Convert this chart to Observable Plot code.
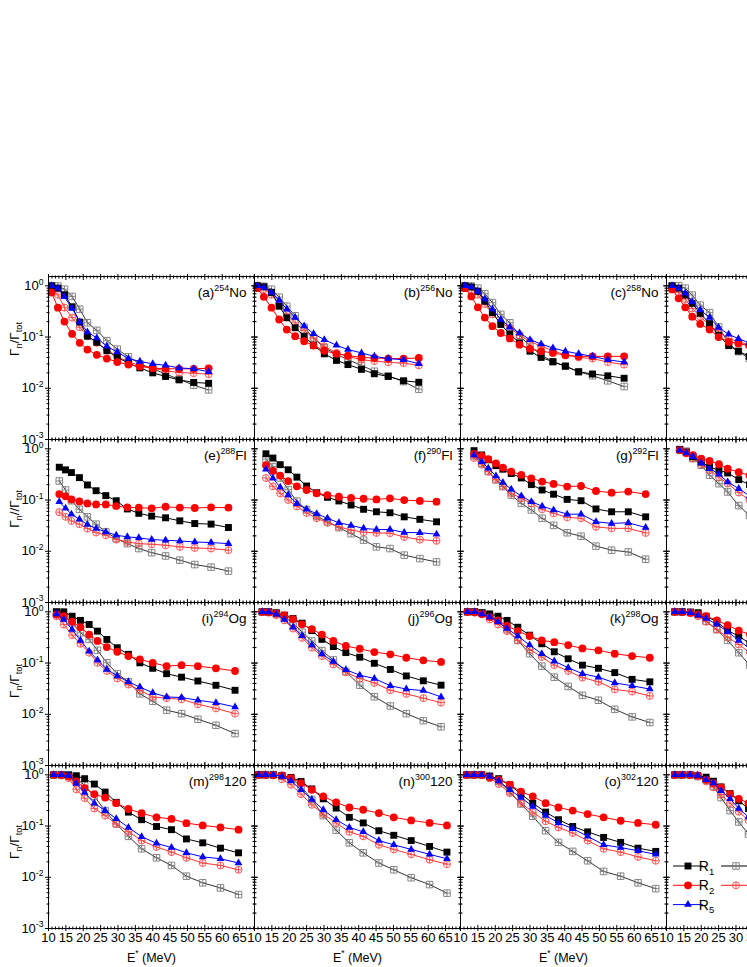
<!DOCTYPE html>
<html><head><meta charset="utf-8">
<script src="https://cdn.jsdelivr.net/npm/d3@7"></script>
<script src="https://cdn.jsdelivr.net/npm/@observablehq/plot@0.6"></script>
<style>
html,body{margin:0;padding:0;overflow:hidden;background:#fff;}
#chart{position:relative;width:747px;height:967px;overflow:hidden;background:#fff;}
</style></head><body><div id="chart"></div>
<script>
// ---------- categories & labels ----------
const cols = ["c1","c2","c3","c4"];
const rows = ["r1","r2","r3","r4"];
const panelIds = ["a","b","c","d","e","f","g","h","i","j","k","l","m","n","o","p"];
const panelLabels = ["(a)^{254}No","(b)^{256}No","(c)^{258}No","(d)^{260}No",
  "(e)^{288}Fl","(f)^{290}Fl","(g)^{292}Fl","(h)^{294}Fl",
  "(i)^{294}Og","(j)^{296}Og","(k)^{298}Og","(l)^{300}Og",
  "(m)^{298}120","(n)^{300}120","(o)^{302}120","(p)^{304}120"];
const rowTitles = ["Γ_{n}/Γ_{tot}","Γ_{n}//Γ_{tot}","Γ_{n}/Γ_{tot}","Γ_{n}/Γ_{tot}"];
const xTitle = "E^{*} (MeV)";
const seriesKeys = ["R1","R1o","R2","R2o","R5"];
const legendLabels = ["R_{1}","R_{2}","R_{5}"];
const xMajorTicks = [10,15,20,25,30,35,40,45,50,55,60,65];
const yMajorTicks = [1,0.1,0.01,0.001];
const yTickLabelValues = [1,0.1,0.01,0.001];

// ---------- data (E* in MeV, Gamma_n/Gamma_tot) ----------
const a_E  = [10.9,12.7,14.6,16.8,19.0,21.2,23.9,26.8,29.8,33.0,36.3,40.0,43.7,47.6,51.8,56.1];
const a_R1 = [1.0,0.90,0.67,0.39,0.196,0.104,0.079,0.054,0.040,0.031,0.025,0.020,0.017,0.0146,0.013,0.0125];
const a_R1o= [1.0,0.99,0.86,0.62,0.35,0.19,0.135,0.085,0.058,0.041,0.030,0.024,0.019,0.015,0.0115,0.0093];
const a_R2 = [0.74,0.375,0.2,0.115,0.077,0.057,0.045,0.038,0.0325,0.029,0.0267,0.0247,0.024,0.024,0.024,0.0245];
const a_R2o= [0.86,0.67,0.375,0.24,0.155,0.104,0.077,0.057,0.042,0.0325,0.028,0.0247,0.022,0.0203,0.0197,0.0188];
const a_R5 = [1.0,0.9,0.61,0.36,0.196,0.126,0.096,0.066,0.051,0.038,0.0335,0.030,0.028,0.025,0.024,0.021];

const b_E  = [10.8,12.7,14.9,17.1,19.3,21.7,24.3,27.0,30.1,33.6,36.9,40.8,44.5,48.5,52.9,57.3];
const b_R1 = [1.0,0.955,0.74,0.40,0.238,0.152,0.104,0.069,0.047,0.035,0.029,0.0234,0.0192,0.017,0.014,0.0131];
const b_R1o= [1.0,0.98,0.86,0.6,0.4,0.26,0.155,0.095,0.062,0.046,0.036,0.028,0.0215,0.0175,0.0135,0.0096];
const b_R2 = [0.9,0.61,0.375,0.22,0.14,0.104,0.083,0.068,0.054,0.047,0.0435,0.040,0.039,0.038,0.038,0.039];
const b_R2o= [1.0,0.86,0.67,0.44,0.285,0.19,0.134,0.096,0.066,0.049,0.042,0.036,0.034,0.032,0.031,0.028];
const b_R5 = [1.0,0.93,0.74,0.52,0.35,0.24,0.164,0.116,0.089,0.069,0.057,0.049,0.042,0.038,0.036,0.030];

const c_E  = [11.3,13.1,15.0,17.0,19.2,21.6,24.2,27.0,30.0,33.2,36.6,40.2,44.0,48.0,52.4,57.1];
const c_R1 = [1.0,0.95,0.78,0.5,0.3,0.176,0.115,0.077,0.053,0.040,0.033,0.027,0.021,0.019,0.0175,0.0157];
const c_R1o= [1.0,0.99,0.9,0.7,0.47,0.277,0.19,0.108,0.066,0.045,0.033,0.027,0.021,0.0176,0.014,0.0108];
const c_R2 = [0.9,0.62,0.38,0.24,0.163,0.12,0.094,0.071,0.059,0.053,0.049,0.044,0.042,0.042,0.042,0.042];
const c_R2o= [0.97,0.86,0.67,0.44,0.277,0.19,0.15,0.108,0.083,0.066,0.054,0.045,0.040,0.038,0.0325,0.029];
const c_R5 = [1.0,0.95,0.78,0.55,0.35,0.22,0.156,0.12,0.089,0.073,0.061,0.053,0.047,0.042,0.036,0.0325];

const d_E  = [11.6,13.5,15.4,17.4,19.7,22.4,25.0,27.9,30.7,33.8,37.0];
const d_R1 = [1.0,0.9,0.66,0.455,0.29,0.183,0.108,0.068,0.053,0.042,0.034];
const d_R1o= [1.0,1.0,0.9,0.66,0.42,0.3,0.158,0.075,0.052,0.038,0.029];
const d_R2 = [0.85,0.57,0.38,0.25,0.18,0.14,0.1,0.08,0.075,0.068,0.062];
const d_R2o= [0.9,0.74,0.55,0.36,0.25,0.17,0.126,0.093,0.082,0.07,0.06];
const d_R5 = [1.0,0.9,0.72,0.49,0.34,0.24,0.153,0.113,0.093,0.077,0.065];

const e_E  = [13.1,14.9,16.6,18.9,21.2,23.7,26.5,29.5,32.7,36.0,39.7,43.7,47.8,52.1,56.8,61.8];
const e_R1 = [0.437,0.388,0.344,0.274,0.197,0.152,0.122,0.097,0.067,0.055,0.0486,0.045,0.0393,0.0348,0.0339,0.0291];
const e_R1o= [0.236,0.157,0.097,0.066,0.047,0.0338,0.0239,0.0177,0.0141,0.0113,0.0094,0.0081,0.0067,0.0055,0.0049,0.0041];
const e_R2 = [0.131,0.118,0.103,0.094,0.086,0.082,0.082,0.076,0.072,0.071,0.069,0.074,0.071,0.070,0.072,0.071];
const e_R2o= [0.058,0.047,0.039,0.0338,0.0278,0.0232,0.0206,0.0169,0.0152,0.0141,0.0137,0.0131,0.0122,0.0116,0.0113,0.0105];
const e_R5 = [0.093,0.069,0.053,0.042,0.0333,0.0278,0.0239,0.0206,0.0191,0.0183,0.0169,0.0164,0.0159,0.0152,0.0148,0.0141];

const f_E  = [13.3,15.3,17.4,19.7,22.2,25.0,27.9,31.0,34.3,37.8,41.4,45.1,49.0,53.1,57.6,62.4];
const f_R1 = [0.80,0.66,0.49,0.39,0.28,0.188,0.139,0.113,0.096,0.080,0.066,0.059,0.0565,0.047,0.042,0.0376];
const f_R1o= [0.63,0.45,0.27,0.16,0.095,0.065,0.048,0.038,0.029,0.022,0.0165,0.0122,0.0113,0.0084,0.0072,0.0062];
const f_R2 = [0.48,0.37,0.30,0.235,0.185,0.157,0.135,0.125,0.116,0.110,0.106,0.103,0.108,0.100,0.096,0.093];
const f_R2o= [0.27,0.185,0.135,0.1,0.075,0.056,0.044,0.036,0.030,0.026,0.0235,0.0228,0.0226,0.019,0.0169,0.016];
const f_R5 = [0.40,0.266,0.177,0.125,0.085,0.066,0.054,0.044,0.036,0.032,0.028,0.0266,0.0266,0.0233,0.023,0.0216];

const g_E  = [13.9,16.1,18.0,20.2,22.2,24.6,27.5,30.4,33.5,36.8,40.7,44.7,49.0,53.5,58.3,63.3];
const g_R1 = [0.92,0.76,0.61,0.47,0.40,0.33,0.27,0.20,0.157,0.13,0.103,0.097,0.067,0.059,0.059,0.047];
const g_R1o= [0.73,0.52,0.36,0.247,0.183,0.125,0.086,0.064,0.044,0.032,0.023,0.0197,0.0126,0.0105,0.0097,0.0070];
const g_R2 = [0.80,0.73,0.63,0.52,0.43,0.36,0.31,0.266,0.229,0.206,0.183,0.188,0.150,0.139,0.146,0.131];
const g_R2o= [0.66,0.49,0.36,0.254,0.188,0.135,0.108,0.086,0.066,0.055,0.046,0.044,0.030,0.028,0.028,0.0228];
const g_R5 = [0.76,0.56,0.418,0.296,0.22,0.162,0.12,0.093,0.076,0.064,0.053,0.053,0.0376,0.035,0.036,0.029];

const h_E  = [13.8,15.7,17.6,20.0,22.4,25.1,27.6,30.8,33.9,37.2];
const h_R1 = [0.97,0.87,0.70,0.556,0.444,0.38,0.338,0.25,0.2,0.165];
const h_R1o= [0.97,0.9,0.646,0.478,0.305,0.209,0.144,0.078,0.05,0.035];
const h_R2 = [0.94,0.83,0.75,0.646,0.58,0.50,0.41,0.35,0.3,0.27];
const h_R2o= [0.94,0.81,0.646,0.5,0.38,0.28,0.21,0.14,0.1,0.075];
const h_R5 = [0.94,0.83,0.70,0.53,0.41,0.32,0.225,0.167,0.12,0.09];

const i_E  = [12.3,14.4,16.8,19.2,21.7,24.1,26.8,29.8,33.0,36.3,40.0,44.0,48.3,53.0,58.2,63.7];
const i_R1 = [1.0,1.0,0.82,0.68,0.566,0.42,0.289,0.199,0.148,0.101,0.079,0.062,0.053,0.0446,0.0368,0.0294];
const i_R1o= [1.0,0.82,0.61,0.39,0.29,0.177,0.101,0.062,0.043,0.025,0.018,0.012,0.0103,0.008,0.0061,0.0042];
const i_R2 = [0.89,0.82,0.64,0.50,0.36,0.27,0.205,0.166,0.137,0.118,0.101,0.087,0.091,0.087,0.079,0.070];
const i_R2o= [0.82,0.566,0.35,0.238,0.159,0.101,0.07,0.05,0.038,0.0294,0.0218,0.0206,0.0196,0.0157,0.013,0.0103];
const i_R5 = [0.91,0.71,0.45,0.277,0.17,0.115,0.075,0.056,0.043,0.034,0.0263,0.0218,0.0212,0.0188,0.0168,0.0139];

const j_E  = [12.2,14.1,16.3,18.6,21.1,23.7,26.5,29.4,32.7,36.3,40.3,44.5,49.1,53.7,58.6,63.7];
const j_R1 = [1.0,1.0,0.96,0.86,0.74,0.60,0.43,0.29,0.21,0.16,0.13,0.099,0.075,0.056,0.045,0.037];
const j_R1o= [1.0,0.99,0.91,0.79,0.61,0.40,0.27,0.175,0.115,0.068,0.037,0.022,0.0145,0.0103,0.0075,0.0057];
const j_R2 = [1.0,0.99,0.93,0.85,0.72,0.57,0.46,0.36,0.27,0.215,0.19,0.164,0.148,0.127,0.113,0.105];
const j_R2o= [1.0,0.96,0.86,0.68,0.47,0.31,0.2,0.137,0.094,0.066,0.05,0.041,0.0294,0.025,0.0206,0.0169];
const j_R5 = [1.0,0.99,0.9,0.71,0.5,0.34,0.225,0.15,0.107,0.074,0.058,0.05,0.036,0.031,0.029,0.0218];

const k_E  = [12.0,14.1,16.2,18.4,20.8,23.4,26.5,29.9,33.4,37.0,41.0,45.1,49.7,54.4,59.4,64.5];
const k_R1 = [1.0,1.0,0.96,0.91,0.82,0.68,0.50,0.35,0.238,0.166,0.121,0.091,0.079,0.065,0.048,0.043];
const k_R1o= [1.0,1.0,0.95,0.86,0.66,0.45,0.277,0.152,0.087,0.053,0.035,0.0234,0.0188,0.0125,0.0089,0.0069];
const k_R2 = [1.0,0.99,0.91,0.79,0.68,0.53,0.42,0.336,0.277,0.256,0.224,0.193,0.177,0.152,0.137,0.127];
const k_R2o= [1.0,0.96,0.89,0.71,0.566,0.42,0.277,0.185,0.131,0.091,0.07,0.052,0.043,0.0306,0.0277,0.0228];
const k_R5 = [1.0,1.0,0.91,0.79,0.64,0.47,0.336,0.224,0.152,0.109,0.081,0.062,0.053,0.041,0.036,0.031];

const l_E  = [12.4,14.5,16.9,19.1,21.4,24.5,27.6,30.8,34.0,37.4];
const l_R1 = [1.0,1.0,0.99,0.96,0.82,0.64,0.43,0.336,0.24,0.17];
const l_R1o= [1.0,1.0,0.96,0.89,0.66,0.45,0.277,0.159,0.09,0.055];
const l_R2 = [1.0,0.99,0.96,0.89,0.82,0.68,0.55,0.43,0.36,0.3];
const l_R2o= [1.0,0.99,0.94,0.82,0.64,0.45,0.32,0.23,0.16,0.11];
const l_R5 = [1.0,1.0,0.96,0.86,0.74,0.57,0.41,0.277,0.19,0.13];

const m_E  = [11.5,13.7,15.8,18.0,20.4,23.2,26.3,29.5,33.0,36.8,41.1,45.4,49.7,54.4,59.5,64.7];
const m_R1 = [1.0,1.0,1.0,0.96,0.84,0.66,0.46,0.29,0.187,0.133,0.098,0.085,0.056,0.047,0.037,0.030];
const m_R1o= [1.0,1.0,0.97,0.87,0.62,0.38,0.2,0.11,0.063,0.036,0.024,0.017,0.0105,0.0078,0.0062,0.0046];
const m_R2 = [1.0,1.0,0.93,0.74,0.55,0.42,0.36,0.28,0.215,0.178,0.148,0.138,0.114,0.103,0.094,0.085];
const m_R2o= [1.0,0.97,0.86,0.52,0.35,0.22,0.16,0.11,0.078,0.052,0.039,0.031,0.024,0.019,0.017,0.014];
const m_R5 = [1.0,1.0,0.97,0.68,0.45,0.28,0.2,0.139,0.094,0.062,0.046,0.038,0.03,0.025,0.023,0.019];

const n_E  = [11.2,13.2,15.4,17.9,20.5,23.4,26.5,29.8,33.5,37.3,41.3,45.8,50.1,55.1,60.4,65.4];
const n_R1 = [1.0,1.0,1.0,0.97,0.89,0.74,0.53,0.34,0.224,0.148,0.115,0.081,0.066,0.052,0.04,0.031];
const n_R1o= [1.0,1.0,1.0,0.96,0.84,0.6,0.33,0.16,0.083,0.047,0.030,0.019,0.014,0.0098,0.0072,0.0049];
const n_R2 = [1.0,1.0,1.0,0.97,0.86,0.69,0.51,0.38,0.29,0.23,0.208,0.179,0.148,0.129,0.115,0.103];
const n_R2o= [1.0,1.0,0.97,0.82,0.64,0.42,0.26,0.171,0.115,0.077,0.063,0.043,0.035,0.028,0.022,0.018];
const n_R5 = [1.0,1.0,1.0,0.93,0.76,0.51,0.33,0.208,0.133,0.094,0.077,0.052,0.043,0.035,0.028,0.023];

const o_E  = [11.8,13.9,16.1,18.4,21.0,24.2,27.4,30.8,34.5,38.2,42.3,46.6,51.2,56.1,61.1,66.2];
const o_R1 = [1.0,1.0,1.0,0.93,0.84,0.64,0.42,0.28,0.187,0.133,0.098,0.077,0.06,0.048,0.037,0.032];
const o_R1o= [1.0,1.0,1.0,0.96,0.74,0.47,0.27,0.155,0.081,0.048,0.032,0.021,0.013,0.0105,0.0078,0.006];
const o_R2 = [1.0,1.0,1.0,0.89,0.8,0.64,0.47,0.38,0.28,0.23,0.2,0.171,0.148,0.127,0.115,0.106];
const o_R2o= [1.0,1.0,0.99,0.86,0.66,0.44,0.28,0.187,0.124,0.094,0.073,0.052,0.036,0.031,0.025,0.021];
const o_R5 = [1.0,1.0,1.0,0.93,0.76,0.51,0.36,0.24,0.16,0.115,0.089,0.063,0.043,0.038,0.033,0.028];

const p_E  = [12.4,14.5,16.8,19.0,21.4,23.5,25.7,28.3,30.8,33.6,36.5];
const p_R1 = [1.0,1.0,1.0,0.97,0.9,0.75,0.58,0.43,0.31,0.22,0.16];
const p_R1o= [1.0,1.0,1.0,0.93,0.8,0.59,0.36,0.2,0.12,0.07,0.042];
const p_R2 = [1.0,1.0,1.0,0.97,0.8,0.69,0.57,0.42,0.34,0.28,0.23];
const p_R2o= [1.0,1.0,0.99,0.93,0.74,0.57,0.41,0.28,0.19,0.13,0.09];
const p_R5 = [1.0,1.0,1.0,0.97,0.8,0.69,0.49,0.34,0.22,0.15,0.1];

const panelEnergies = [a_E,b_E,c_E,d_E,e_E,f_E,g_E,h_E,i_E,j_E,k_E,l_E,m_E,n_E,o_E,p_E];
const panelValues = [
  [a_R1,a_R1o,a_R2,a_R2o,a_R5],[b_R1,b_R1o,b_R2,b_R2o,b_R5],[c_R1,c_R1o,c_R2,c_R2o,c_R5],[d_R1,d_R1o,d_R2,d_R2o,d_R5],
  [e_R1,e_R1o,e_R2,e_R2o,e_R5],[f_R1,f_R1o,f_R2,f_R2o,f_R5],[g_R1,g_R1o,g_R2,g_R2o,g_R5],[h_R1,h_R1o,h_R2,h_R2o,h_R5],
  [i_R1,i_R1o,i_R2,i_R2o,i_R5],[j_R1,j_R1o,j_R2,j_R2o,j_R5],[k_R1,k_R1o,k_R2,k_R2o,k_R5],[l_R1,l_R1o,l_R2,l_R2o,l_R5],
  [m_R1,m_R1o,m_R2,m_R2o,m_R5],[n_R1,n_R1o,n_R2,n_R2o,n_R5],[o_R1,o_R1o,o_R2,o_R2o,o_R5],[p_R1,p_R1o,p_R2,p_R2o,p_R5]];

// ---------- tables built from the arrays ----------
const table = [];
panelIds.forEach((id, i) => {
  const E = panelEnergies[i];
  seriesKeys.forEach((s, k) => {
    panelValues[i][k].forEach((v, j) => table.push({panel: id, col: cols[i % 4], row: rows[Math.floor(i / 4)], series: s, E: E[j], ratio: v}));
  });
});
const labelTable = panelIds.map((id, i) => ({col: cols[i % 4], row: rows[Math.floor(i / 4)], label: panelLabels[i]}));
const yTitleTable = rows.map((r, i) => ({col: cols[0], row: r, title: rowTitles[i]}));
const xTitleTable = cols.slice(0, 3).map(c => ({col: c, row: rows[3], title: xTitle}));
const xMinorTicks = d3.range(11, 70).filter(v => v % 5 !== 0);
const yMinorTicks = [0.001, 0.01, 0.1].flatMap(b => d3.range(2, 10).map(m => m * b));

// ---------- symbols & styles ----------
const squarePlus = {draw(ctx, size) {
  const h = Math.sqrt(size) / 2;
  ctx.moveTo(-h, -h); ctx.lineTo(h, -h); ctx.lineTo(h, h); ctx.lineTo(-h, h); ctx.closePath();
  ctx.moveTo(-h, 0); ctx.lineTo(h, 0); ctx.moveTo(0, -h); ctx.lineTo(0, h);
}};
const circlePlus = {draw(ctx, size) {
  const r = Math.sqrt(size / Math.PI);
  ctx.moveTo(r, 0); ctx.arc(0, 0, r, 0, 2 * Math.PI);
  ctx.moveTo(-r, 0); ctx.lineTo(r, 0); ctx.moveTo(0, -r); ctx.lineTo(0, r);
}};
const styles = {
  R1o: {line: "#000000", lw: 0.8, symbol: squarePlus, r: 3.7, fill: "none", stroke: "#7a7a7a", sw: 0.9},
  R2o: {line: "#ff1a1a", lw: 0.9, symbol: circlePlus, r: 3.5, fill: "none", stroke: "#ff4a4a", sw: 0.9},
  R1:  {line: "#000000", lw: 1, symbol: d3.symbolSquare, r: 3.9, fill: "#000000"},
  R2:  {line: "#ff0000", lw: 1, symbol: d3.symbolCircle, r: 3.9, fill: "#ff0000"},
  R5:  {line: "#0000ff", lw: 1, symbol: d3.symbolTriangle, r: 2.9, fill: "#0000ff"}
};
const drawOrder = ["R1o","R2o","R1","R2","R5"];

const FONT = "'Liberation Sans', Arial, Helvetica, sans-serif";
const marks = [];
for (const s of drawOrder) {
  const st = styles[s];
  const d = table.filter(r => r.series === s);
  marks.push(Plot.line(d, {x: "E", y: "ratio", z: "panel", fx: "col", fy: "row", stroke: st.line, strokeWidth: st.lw}));
  const dotOpts = {x: "E", y: "ratio", fx: "col", fy: "row", symbol: st.symbol, r: st.r, fill: st.fill};
  if (st.stroke) { dotOpts.stroke = st.stroke; dotOpts.strokeWidth = st.sw; }
  marks.push(Plot.dot(d, dotOpts));
}
// axes: crossing ticks on all four sides of each panel
const tickBase = {facetAnchor: null, stroke: "black", fill: "none", label: null};
marks.push(
  Plot.axisX(xMajorTicks, {...tickBase, anchor: "bottom", tickSize: 6, insetBottom: 3}),
  Plot.axisX(xMinorTicks, {...tickBase, anchor: "bottom", tickSize: 3, insetBottom: 1.5}),
  Plot.axisX(xMajorTicks, {...tickBase, anchor: "top", tickSize: 6, insetTop: 3}),
  Plot.axisX(xMinorTicks, {...tickBase, anchor: "top", tickSize: 3, insetTop: 1.5}),
  Plot.axisY(yMajorTicks, {...tickBase, anchor: "left", tickSize: 6, insetLeft: 3}),
  Plot.axisY(yMinorTicks, {...tickBase, anchor: "left", tickSize: 3, insetLeft: 1.5}),
  Plot.axisY(yMajorTicks, {...tickBase, anchor: "right", tickSize: 6, insetRight: 3}),
  Plot.axisY(yMinorTicks, {...tickBase, anchor: "right", tickSize: 3, insetRight: 1.5}),
  Plot.axisX(xMajorTicks, {anchor: "bottom", facetAnchor: "bottom", tickSize: 0, tickPadding: 4.5, label: null, fontSize: 13, fill: "black"}),
  Plot.axisY(yTickLabelValues, {anchor: "left", facetAnchor: "left", tickSize: 0, tickPadding: 5, label: null, fontSize: 13, fill: "black",
    tickFormat: d => `10^{${Math.round(Math.log10(d))}}`}),
  Plot.frame({stroke: "black", strokeWidth: 1}),
  Plot.text(labelTable, {fx: "col", fy: "row", text: "label", frameAnchor: "top-right", dx: -8, dy: 20, textAnchor: "end", lineAnchor: "bottom", fontSize: 13.5, fill: "black"}),
  Plot.text(xTitleTable, {fx: "col", fy: "row", text: "title", frameAnchor: "bottom", dy: 33, textAnchor: "middle", lineAnchor: "bottom", fontSize: 12.5, fill: "black"})
);
// y titles: one per row (each placed slightly differently, as in the original figure)
const yTitleShift = [-19, -12, -3, -5];
rows.forEach((r, i) => {
  marks.push(Plot.text(yTitleTable.filter(t => t.row === r), {fx: "col", fy: "row", text: "title", frameAnchor: "left", rotate: -90,
    dx: -30, dy: yTitleShift[i], textAnchor: "middle", lineAnchor: "bottom", fontSize: 13.5, fill: "black"}));
});

const chart = Plot.plot({
  width: 872, height: 967,
  marginLeft: 48, marginRight: 0, marginTop: 276, marginBottom: 39,
  x: {type: "linear", domain: [10, 69.3], axis: null},
  y: {type: "log", domain: [0.001, 1.52], axis: null},
  fx: {domain: cols, padding: 0, axis: null},
  fy: {domain: rows, padding: 0, axis: null},
  style: {fontFamily: FONT, fontSize: "13px", color: "black", background: "white", maxWidth: "none", overflow: "visible"},
  marks
});
chart.style.maxWidth = "none";
chart.style.width = "872px";
chart.style.height = "967px";
document.getElementById("chart").appendChild(chart);

// ---------- rich text (superscripts / subscripts) ----------
function rich(node, str, base) {
  const parts = str.split(/(\^\{[^}]*\}|_\{[^}]*\})/).filter(s => s !== "");
  while (node.firstChild) node.removeChild(node.firstChild);
  let shift = 0;
  for (const p of parts) {
    const ts = document.createElementNS("http://www.w3.org/2000/svg", "tspan");
    let target = 0, size = base, txt = p;
    if (p.startsWith("^{")) { target = -0.42 * base; size = 0.66 * base; txt = p.slice(2, -1); }
    else if (p.startsWith("_{")) { target = 0.25 * base; size = 0.68 * base; txt = p.slice(2, -1); }
    if (target - shift !== 0) ts.setAttribute("dy", (target - shift).toFixed(2));
    shift = target;
    ts.setAttribute("font-size", size);
    ts.textContent = txt;
    node.appendChild(ts);
  }
}
d3.select(chart).selectAll("text").each(function() {
  const s = this.textContent;
  if (/[\^_]\{/.test(s)) {
    const base = parseFloat(getComputedStyle(this).fontSize) || 13;
    rich(this, s, base);
  }
});

// ---------- legend (inside panel p) ----------
const legendKeys = [["R1","R1o"],["R2","R2o"],["R5",null]];
const L = d3.select(chart).append("g").attr("aria-label", "legend").attr("font-family", FONT).attr("font-size", 14);
function legendSymbol(key, x, y) {
  const st = styles[key];
  const path = d3.symbol(st.symbol, Math.PI * st.r * st.r)();
  L.append("path").attr("d", path).attr("transform", `translate(${x},${y})`)
    .attr("fill", st.fill).attr("stroke", st.stroke || "none").attr("stroke-width", st.sw || 0);
}
legendKeys.forEach(([k, ko], i) => {
  const y = 866 + i * 19.3;
  L.append("line").attr("x1", 673).attr("x2", 703).attr("y1", y).attr("y2", y).attr("stroke", styles[k].line).attr("stroke-width", 1);
  legendSymbol(k, 688, y);
  const t = L.append("text").attr("x", 706.5).attr("y", y + 5).attr("fill", "black");
  rich(t.node(), legendLabels[i], 14);
  if (ko) {
    L.append("line").attr("x1", 721).attr("x2", 770).attr("y1", y).attr("y2", y).attr("stroke", styles[ko].line).attr("stroke-width", 1);
    legendSymbol(ko, 736, y);
  }
});
</script>
</body></html>
